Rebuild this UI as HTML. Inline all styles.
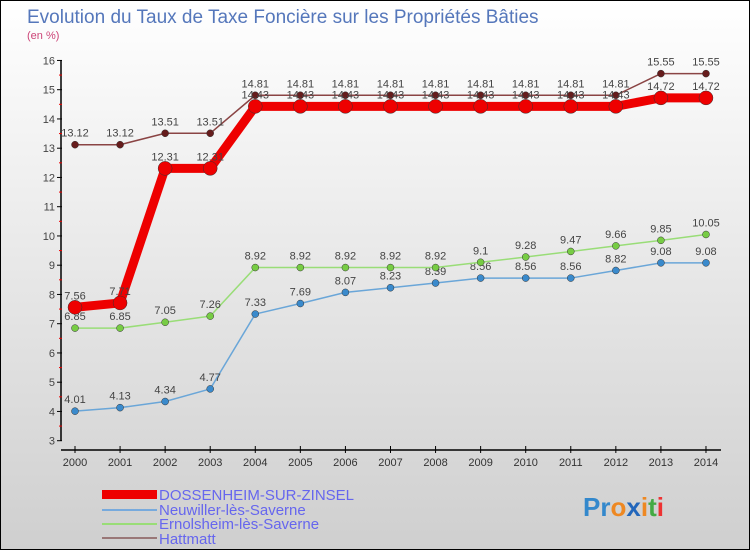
<!DOCTYPE html>
<html><head><meta charset="utf-8"><style>
body{margin:0}
#c{width:748px;height:548px;border:1px solid #000;background:linear-gradient(#ffffff,#cfcfcf);position:relative;font-family:"Liberation Sans",sans-serif;overflow:hidden}
text{font-family:"Liberation Sans",sans-serif}
</style></head><body>
<div id="c">
<svg id="s" width="748" height="548">
<text x="26" y="22" font-size="19" fill="#5577bb">Evolution du Taux de Taxe Foncière sur les Propriétés Bâties</text>
<text x="26" y="38" font-size="11" fill="#cc4477">(en %)</text>
<g id="axes"></g><g id="series"></g>
<g>
<rect x="101" y="489" width="55" height="9" fill="#ee0000"/>
<text x="158" y="499" font-size="15" fill="#6666ee">DOSSENHEIM-SUR-ZINSEL</text>
<line x1="101" y1="509" x2="156" y2="509" stroke="#77aadd" stroke-width="2"/>
<text x="158" y="514" font-size="15" fill="#6666ee">Neuwiller-lès-Saverne</text>
<line x1="101" y1="523" x2="156" y2="523" stroke="#99dd77" stroke-width="2"/>
<text x="158" y="528" font-size="15" fill="#6666ee">Ernolsheim-lès-Saverne</text>
<line x1="101" y1="537" x2="156" y2="537" stroke="#997777" stroke-width="2"/>
<text x="158" y="543" font-size="15" fill="#6666ee">Hattmatt</text>
</g>
<text x="582" y="515" font-size="26" font-weight="bold"><tspan fill="#3388cc">Pr</tspan><tspan fill="#ee8822">o</tspan><tspan fill="#2266bb">x</tspan><tspan fill="#ee8822">i</tspan><tspan fill="#44aa44">t</tspan><tspan fill="#ee3333">i</tspan></text>
</svg></div>
<script>
const years=[2000,2001,2002,2003,2004,2005,2006,2007,2008,2009,2010,2011,2012,2013,2014];
const yTicks=[3,4,5,6,7,8,9,10,11,12,13,14,15,16];
const dossenheim=[7.56,7.71,12.31,12.31,14.43,14.43,14.43,14.43,14.43,14.43,14.43,14.43,14.43,14.72,14.72];
const neuwiller=[4.01,4.13,4.34,4.77,7.33,7.69,8.07,8.23,8.39,8.56,8.56,8.56,8.82,9.08,9.08];
const ernolsheim=[6.85,6.85,7.05,7.26,8.92,8.92,8.92,8.92,8.92,9.1,9.28,9.47,9.66,9.85,10.05];
const hattmatt=[13.12,13.12,13.51,13.51,14.81,14.81,14.81,14.81,14.81,14.81,14.81,14.81,14.81,15.55,15.55];
const NS="http://www.w3.org/2000/svg";
const X=i=>74+i*45.07, Y=v=>439.7-(v-3)*29.25;
function mk(t,a,p){const e=document.createElementNS(NS,t);for(const k in a)e.setAttribute(k,a[k]);p.appendChild(e);return e;}
const ax=document.getElementById('axes');
let l=mk('line',{x1:60,y1:Y(16),x2:60,y2:Y(3),stroke:'#000','stroke-width':1.5},ax);


l=mk('line',{x1:60,y1:449,x2:720,y2:449,stroke:'#000','stroke-width':1.5},ax);


yTicks.forEach(v=>{
 mk('line',{x1:56,y1:Y(v),x2:61,y2:Y(v),stroke:'#000'},ax);
 if(v<16)mk('line',{x1:58,y1:Y(v+0.5),x2:61,y2:Y(v+0.5),stroke:'#e00'},ax);
 const t=mk('text',{x:54,y:Y(v)+4,'font-size':11,fill:'#444','text-anchor':'end'},ax);t.textContent=v;
 
 
});
years.forEach((y,i)=>{
 mk('line',{x1:X(i),y1:445,x2:X(i),y2:452,stroke:'#000'},ax);
 const t=mk('text',{x:X(i),y:465,'font-size':11,fill:'#333','text-anchor':'middle'},ax);t.textContent=y;
 
 
});
const sg=document.getElementById('series');
function series(d,name,col,w,r,fill,above){
 const g=mk('g',{},sg);
 
 
 const p=mk('polyline',{points:d.map((v,i)=>X(i)+','+Y(v)).join(' '),fill:'none',stroke:col,'stroke-width':w,'stroke-linejoin':'round'},g);
 
 
 d.forEach((v,i)=>{
  const c=mk('circle',{cx:X(i),cy:Y(v),r:r,fill:fill,stroke:'#333','stroke-width':0.5},g);
  
  
  const t=mk('text',{x:X(i),y:Y(v)-(above?9:-0)-(above?0:-0),'font-size':11,fill:'#444','text-anchor':'middle'},g);
  t.setAttribute('y',Y(v)-8);
  t.textContent=v;
  
  
 });
}
series(neuwiller,'neuwiller','#6aa6d8',1.5,3.5,'#3a8acc',true);
series(ernolsheim,'ernolsheim','#99dd77',1.5,3.5,'#77cc44',true);
series(hattmatt,'hattmatt','#8a4444',1.5,3.5,'#661c1c',true);
series(dossenheim,'dossenheim','#ee0000',9,7,'#ee0000',true);
</script>
</body></html>
